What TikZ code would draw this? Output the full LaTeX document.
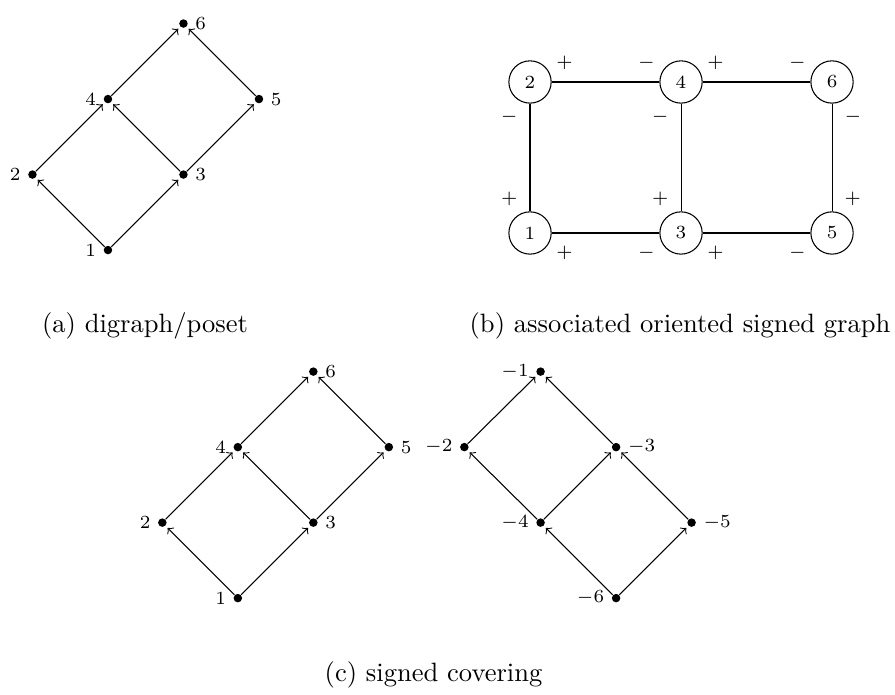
\documentclass[tikz,border=0pt]{standalone}
\usepackage{tikz}
\usetikzlibrary{arrows.meta, positioning}

\begin{document}
\begin{tikzpicture}[>=to, thin,
  dot/.style={circle, fill, inner sep=0pt, minimum size=3.2pt},
  vtx/.style={draw, circle, minimum size=0.56cm, inner sep=0pt, font=\scriptsize},
  arr/.style={->, shorten >=1pt},
  sgn/.style={font=\scriptsize},
  every label/.style={font=\scriptsize, inner sep=1.5pt},
  label distance=1pt]

\useasboundingbox (0,0) rectangle (11.854,9.192);

% (a) digraph/poset
\node[dot, label=left:1]  (a1) at (1.43,5.88) {};
\node[dot, label=left:2]  (a2) at (0.43,6.88) {};
\node[dot, label=right:3] (a3) at (2.43,6.88) {};
\node[dot, label=left:4]  (a4) at (1.43,7.88) {};
\node[dot, label=right:5] (a5) at (3.43,7.88) {};
\node[dot, label=right:6] (a6) at (2.43,8.88) {};

\draw[arr] (a1) -- (a2);
\draw[arr] (a1) -- (a3);
\draw[arr] (a2) -- (a4);
\draw[arr] (a3) -- (a4);
\draw[arr] (a3) -- (a5);
\draw[arr] (a4) -- (a6);
\draw[arr] (a5) -- (a6);

% (b) associated oriented signed graph
\node[vtx] (b1) at (7.02,6.106) {1};
\node[vtx] (b3) at (9.02,6.106) {3};
\node[vtx] (b5) at (11.02,6.106) {5};
\node[vtx] (b2) at (7.02,8.106) {2};
\node[vtx] (b4) at (9.02,8.106) {4};
\node[vtx] (b6) at (11.02,8.106) {6};

\draw (b2) -- node[sgn, pos=.12, above=1.2pt]{$+$} node[sgn, pos=.88, above=1.2pt]{$-$} (b4);
\draw (b4) -- node[sgn, pos=.12, above=1.2pt]{$+$} node[sgn, pos=.88, above=1.2pt]{$-$} (b6);
\draw (b1) -- node[sgn, pos=.12, below=1.2pt]{$+$} node[sgn, pos=.88, below=1.2pt]{$-$} (b3);
\draw (b3) -- node[sgn, pos=.12, below=1.2pt]{$+$} node[sgn, pos=.88, below=1.2pt]{$-$} (b5);
\draw (b2) -- node[sgn, pos=.12, left=1.2pt]{$-$} node[sgn, pos=.88, left=1.2pt]{$+$} (b1);
\draw (b4) -- node[sgn, pos=.12, left=1.2pt]{$-$} node[sgn, pos=.88, left=1.2pt]{$+$} (b3);
\draw (b6) -- node[sgn, pos=.12, right=1.2pt]{$-$} node[sgn, pos=.88, right=1.2pt]{$+$} (b5);

% (c) signed covering, positive half
\node[dot, label=left:1]  (c1) at (3.15,1.27) {};
\node[dot, label=left:2]  (c2) at (2.15,2.27) {};
\node[dot, label=right:3] (c3) at (4.15,2.27) {};
\node[dot, label=left:4]  (c4) at (3.15,3.27) {};
\node[dot, label=right:5] (c5) at (5.15,3.27) {};
\node[dot, label=right:6] (c6) at (4.15,4.27) {};

\draw[arr] (c1) -- (c2);
\draw[arr] (c1) -- (c3);
\draw[arr] (c2) -- (c4);
\draw[arr] (c3) -- (c4);
\draw[arr] (c3) -- (c5);
\draw[arr] (c4) -- (c6);
\draw[arr] (c5) -- (c6);

% negative half
\node[dot, label={left:$-1$}]  (m1) at (7.16,4.27) {};
\node[dot, label={left:$-2$}]  (m2) at (6.15,3.27) {};
\node[dot, label={right:$-3$}] (m3) at (8.16,3.27) {};
\node[dot, label={left:$-4$}]  (m4) at (7.16,2.27) {};
\node[dot, label={right:$-5$}] (m5) at (9.16,2.27) {};
\node[dot, label={left:$-6$}]  (m6) at (8.16,1.27) {};

\draw[arr] (m6) -- (m4);
\draw[arr] (m6) -- (m5);
\draw[arr] (m4) -- (m2);
\draw[arr] (m4) -- (m3);
\draw[arr] (m5) -- (m3);
\draw[arr] (m2) -- (m1);
\draw[arr] (m3) -- (m1);

% Captions
\node[anchor=base] (capa) at (1.92,4.79) {(a) digraph/poset};
\node[anchor=base] (capb) at (9.007,4.79) {(b) associated oriented signed graph};
\node[anchor=base] (capc) at (5.742,0.16) {(c) signed covering};

\end{tikzpicture}
\end{document}
